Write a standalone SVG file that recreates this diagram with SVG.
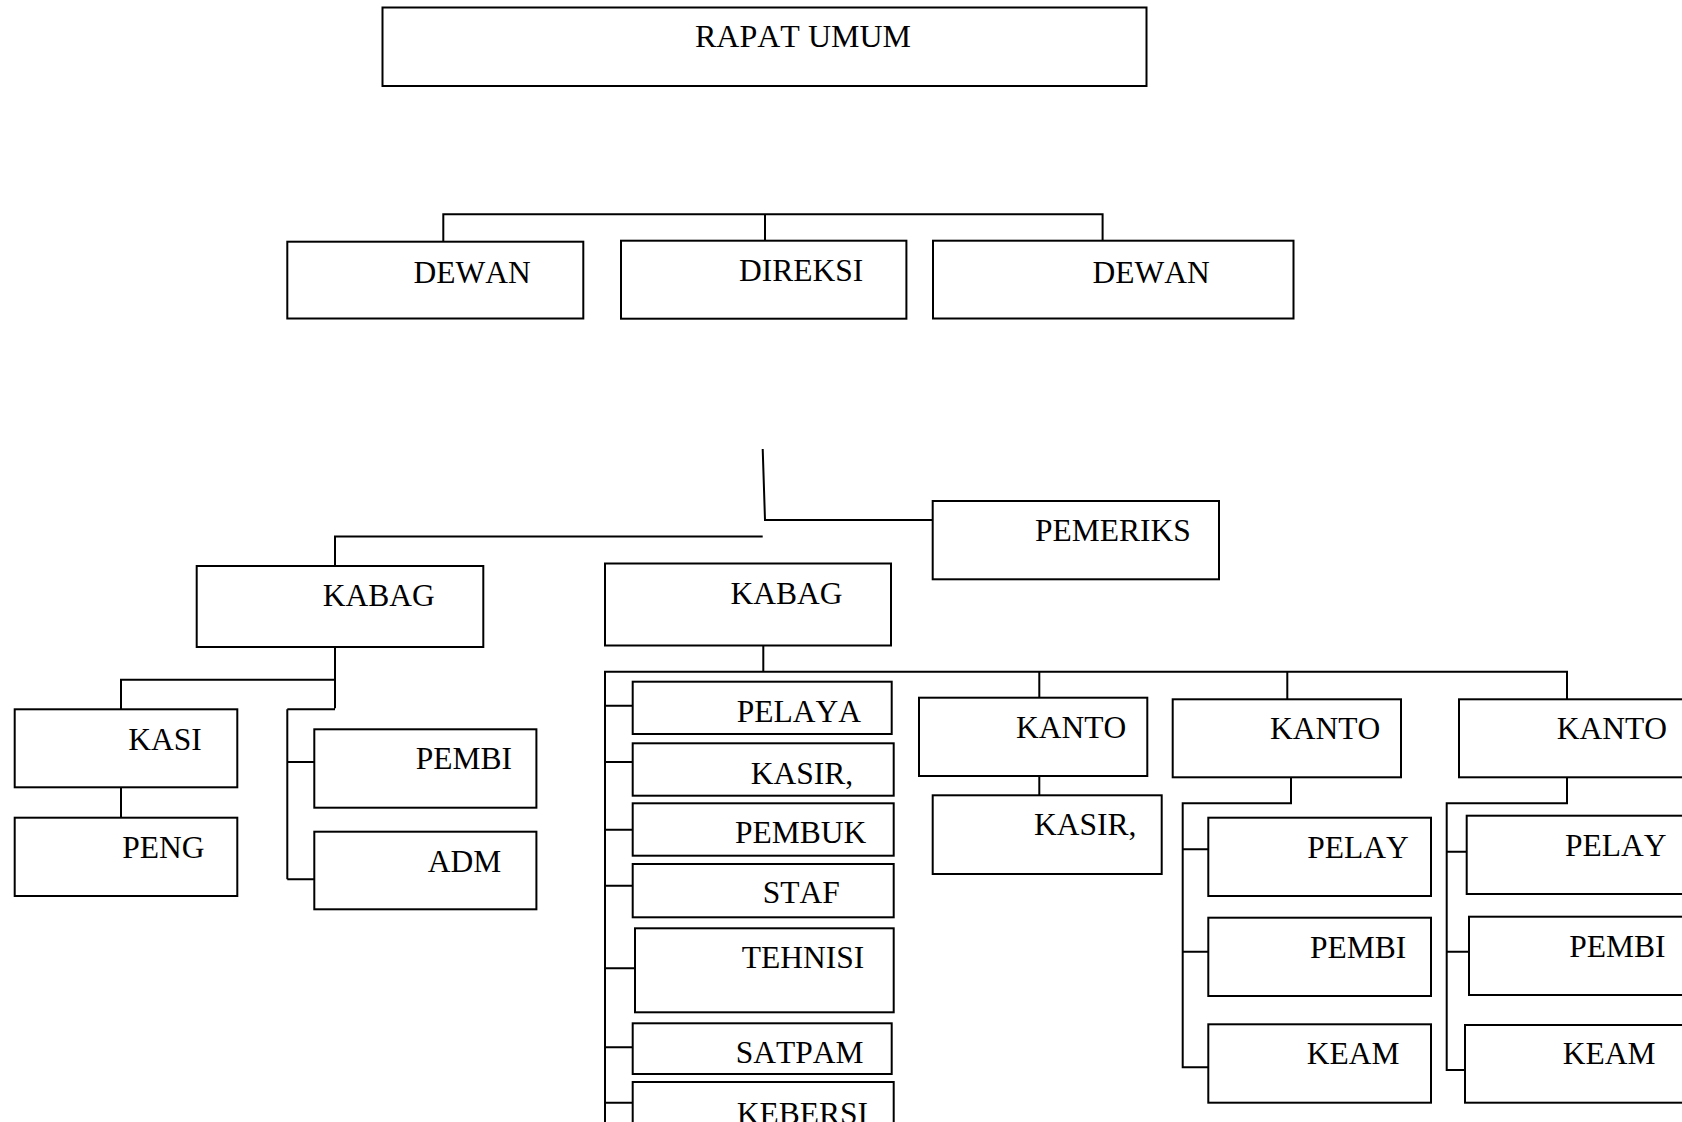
<svg xmlns="http://www.w3.org/2000/svg" width="1682" height="1122" viewBox="0 0 1682 1122">
<style>
rect{fill:#fff;stroke:#000;stroke-width:2}
text{font-family:"Liberation Serif","Times New Roman",serif;font-size:31.5px;fill:#000;font-kerning:none}
#connectors path{fill:none;stroke:#000;stroke-width:2}
</style>
<rect x="0" y="0" width="1682" height="1122" style="stroke:none"/>
<g id="connectors">
<path d="M443.3 241.7V214.3H1102.6V241.7M765 214.3V240.7"/>
<path d="M762.7 449L765 520H932.7"/>
<path d="M762.7 536.5H335V566"/>
<path d="M335 647V708.3M121 709.3V679.7H335M287.3 709.3H335M287.3 709.3V879.3M287.3 762H314.3M287.3 879.3H314.3M121 787.3V817.7"/>
<path d="M763.3 645.5V671.7M605 1130V671.7H1567V699.3M1039.3 671.7V697.7M1287.3 671.7V699.3"/>
<path d="M605 705.7H632.7M605 762H632.7M605 829.7H632.7M605 885.7H632.7M605 968.3H635M605 1047.3H632.7M605 1102.7H632.7"/>
<path d="M1039.3 776V795.3"/>
<path d="M1291 777.3V803.3H1182.7V1067.3H1208.3M1182.7 849.3H1208.3M1182.7 951.7H1208.3"/>
<path d="M1567 777.3V803.3H1446.7V1070H1465M1446.7 851.7H1466.7M1446.7 951.7H1469"/>
</g>
<g id="rapat-umum"><rect x="382.5" y="7.5" width="764" height="78.5"/><text x="695" y="47" style="font-size:32px">RAPAT UMUM</text></g>
<g id="dewan-1"><rect x="287.3" y="241.7" width="296" height="76.8"/><text x="413.5" y="283">DEWAN</text></g>
<g id="direksi"><rect x="621" y="240.7" width="285.4" height="78"/><text x="739" y="281">DIREKSI</text></g>
<g id="dewan-2"><rect x="933" y="240.7" width="360.5" height="77.8"/><text x="1092.5" y="283">DEWAN</text></g>
<g id="pemeriks"><rect x="932.7" y="501" width="286.3" height="78.3"/><text x="1035" y="541">PEMERIKS</text></g>
<g id="kabag-1"><rect x="196.7" y="566" width="286.6" height="81"/><text x="322.7" y="606">KABAG</text></g>
<g id="kabag-2"><rect x="605" y="563.5" width="286" height="82"/><text x="730.5" y="604">KABAG</text></g>
<g id="kasi"><rect x="14.7" y="709.3" width="222.6" height="78"/><text x="128.3" y="750">KASI</text></g>
<g id="peng"><rect x="14.7" y="817.7" width="222.6" height="78.3"/><text x="122.3" y="858">PENG</text></g>
<g id="pembi-1"><rect x="314.3" y="729.3" width="222.1" height="78.4"/><text x="415.7" y="769">PEMBI</text></g>
<g id="adm"><rect x="314.3" y="831.7" width="222.1" height="77.6"/><text x="427.7" y="872">ADM</text></g>
<g id="pelaya"><rect x="632.7" y="681.7" width="259" height="52.3"/><text x="736.7" y="721.7">PELAYA</text></g>
<g id="kasir-1"><rect x="632.7" y="743.3" width="261" height="52.4"/><text x="750.7" y="784">KASIR,</text></g>
<g id="pembuk"><rect x="632.7" y="803.3" width="261" height="52.4"/><text x="735" y="842.7">PEMBUK</text></g>
<g id="staf"><rect x="632.7" y="864" width="261" height="53.3"/><text x="762.7" y="903.3">STAF</text></g>
<g id="tehnisi"><rect x="635" y="928.3" width="258.7" height="84"/><text x="741.7" y="967.7">TEHNISI</text></g>
<g id="satpam"><rect x="632.7" y="1023.3" width="259" height="50.7"/><text x="735.7" y="1062.7">SATPAM</text></g>
<g id="kebersi"><rect x="632.7" y="1082" width="261" height="60"/><text x="736.7" y="1124">KEBERSI</text></g>
<g id="kanto-1"><rect x="919" y="697.7" width="228.3" height="78.3"/><text x="1016" y="737.7">KANTO</text></g>
<g id="kasir-2"><rect x="932.7" y="795.3" width="229" height="78.7"/><text x="1034" y="835">KASIR,</text></g>
<g id="kanto-2"><rect x="1172.7" y="699.3" width="228.3" height="78"/><text x="1270" y="739">KANTO</text></g>
<g id="pelay-2"><rect x="1208.3" y="817.7" width="222.7" height="78.3"/><text x="1307.3" y="858.3">PELAY</text></g>
<g id="pembi-2"><rect x="1208.3" y="917.7" width="222.7" height="78.3"/><text x="1310" y="958.3">PEMBI</text></g>
<g id="keam-2"><rect x="1208.3" y="1024.3" width="222.7" height="78.4"/><text x="1306.7" y="1064">KEAM</text></g>
<g id="kanto-3"><rect x="1459" y="699.3" width="240" height="78"/><text x="1556.7" y="739">KANTO</text></g>
<g id="pelay-3"><rect x="1466.7" y="815.7" width="240" height="78.3"/><text x="1565" y="856">PELAY</text></g>
<g id="pembi-3"><rect x="1469" y="916.7" width="240" height="78.3"/><text x="1569.3" y="956.7">PEMBI</text></g>
<g id="keam-3"><rect x="1465" y="1025" width="240" height="77.7"/><text x="1562.7" y="1064">KEAM</text></g>
</svg>
